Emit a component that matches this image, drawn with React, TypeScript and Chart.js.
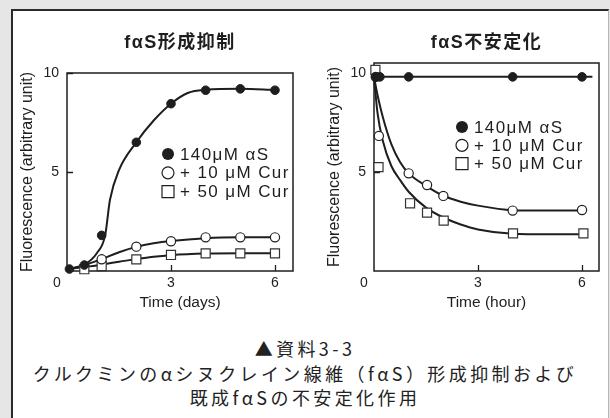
import React, { useEffect, useRef } from 'react';
import { Chart, registerables } from 'chart.js';

Chart.register(...registerables);

// ---------- texts ----------
const leftTitle = 'fαS形成抑制';
const rightTitle = 'fαS不安定化';
const yAxisTitle = 'Fluorescence (arbitrary unit)';
const leftXTitle = 'Time (days)';
const rightXTitle = 'Time (hour)';
const legendLabels = ['140μM αS', '+ 10 μM Cur', '+ 50 μM Cur'];
const captionLines = ['▲資料3-3', 'クルクミンのαシヌクレイン線維（fαS）形成抑制および', '既成fαSの不安定化作用'];

// ---------- tick values ----------
const xTickValues = [3, 6];
const yTickValues = [5, 10];

// ---------- left chart (days): measured points ----------
const dayFilledX = [0.07, 0.5, 1, 2, 3, 4, 5, 6];
const dayFilledY = [0.1, 0.3, 1.8, 6.5, 8.45, 9.13, 9.2, 9.13];
const dayCircleX = [1, 2, 3, 4, 5, 6];
const dayCircleY = [0.59, 1.23, 1.5, 1.7, 1.7, 1.7];
const daySquareX = [0.5, 1, 2, 3, 4, 5, 6];
const daySquareY = [0.09, 0.25, 0.59, 0.81, 0.89, 0.89, 0.89];

// left chart fitted curves
const dayFilledCurveX = [0.07, 0.5, 0.86, 1.1, 1.24, 1.5, 2, 2.5, 3, 3.5, 4, 5, 6];
const dayFilledCurveY = [0.1, 0.32, 0.9, 1.8, 3.6, 5.1, 6.5, 7.6, 8.45, 9.0, 9.15, 9.2, 9.15];
const dayCircleCurveX = [0.07, 0.5, 1, 1.5, 2, 2.5, 3, 4, 5, 6];
const dayCircleCurveY = [0.1, 0.3, 0.6, 0.95, 1.22, 1.4, 1.52, 1.66, 1.7, 1.7];
const daySquareCurveX = [0.07, 0.5, 1, 1.5, 2, 2.5, 3, 4, 5, 6];
const daySquareCurveY = [0.1, 0.2, 0.32, 0.47, 0.6, 0.72, 0.8, 0.88, 0.9, 0.9];

// ---------- right chart (hours): measured points ----------
const hourFilledX = [0.05, 0.17, 1, 4, 6];
const hourFilledY = [9.8, 9.8, 9.8, 9.8, 9.8];
const hourCircleX = [0.05, 0.14, 1, 1.53, 2, 4, 6];
const hourCircleY = [9.8, 6.82, 4.93, 4.34, 3.79, 3.05, 3.08];
const hourSquareX = [0.04, 0.13, 1.04, 1.53, 2.01, 4.01, 6.04];
const hourSquareY = [10.15, 5.24, 3.42, 2.95, 2.54, 1.9, 1.9];

// right chart fitted curves
const hourFilledCurveX = [0, 6.3];
const hourFilledCurveY = [9.8, 9.8];
const hourCircleCurveX = [0, 0.1, 0.25, 0.5, 0.75, 1, 1.5, 2, 2.5, 3, 4, 5, 6];
const hourCircleCurveY = [9.8, 8.9, 7.8, 6.4, 5.5, 4.93, 4.3, 3.8, 3.5, 3.3, 3.07, 3.05, 3.05];
const hourSquareCurveX = [0, 0.1, 0.25, 0.5, 0.75, 1, 1.5, 2, 2.5, 3, 4, 5, 6];
const hourSquareCurveY = [9.8, 8.0, 6.6, 5.3, 4.6, 4.0, 3.2, 2.7, 2.35, 2.1, 1.88, 1.85, 1.85];

const zip = (xs: number[], ys: number[]) => xs.map((x, i) => ({ x, y: ys[i] }));

const INK = '#1e1e1e';
const LATIN = '"Liberation Sans", Arial, Helvetica, sans-serif';
const JP = '"Liberation Sans", "Noto Sans CJK JP", sans-serif';

const decorPlugin = {
  id: 'decor',
  beforeDatasetsDraw(chart: any) {
    const { ctx, chartArea: a, scales } = chart;
    ctx.save();
    ctx.strokeStyle = INK;
    ctx.lineWidth = 1.5;
    ctx.strokeRect(a.left, a.top, a.right - a.left, a.bottom - a.top);
    ctx.lineWidth = 1.3;
    ctx.beginPath();
    for (const v of xTickValues) {
      const px = Math.round(scales.x.getPixelForValue(v)) + 0.5;
      ctx.moveTo(px, a.bottom);
      ctx.lineTo(px, a.bottom - 6);
    }
    for (const v of yTickValues) {
      const py = Math.round(scales.y.getPixelForValue(v)) + 0.5;
      ctx.moveTo(a.left, py);
      ctx.lineTo(a.left + 6, py);
    }
    ctx.stroke();
    ctx.restore();
  },
  afterDraw(chart: any, _args: any, opts: any) {
    const { ctx, chartArea: a } = chart;
    ctx.save();
    // title
    ctx.fillStyle = INK;
    ctx.textAlign = 'center';
    ctx.textBaseline = 'middle';
    ctx.font = `bold 18px ${JP}`;
    try { (ctx as any).letterSpacing = '1.5px'; } catch (e) {}
    ctx.fillText(opts.title, (a.left + a.right) / 2, 43);
    try { (ctx as any).letterSpacing = '0px'; } catch (e) {}
    // shared zero label
    ctx.font = `14px ${LATIN}`;
    ctx.fillText('0', a.left - 10, a.bottom + 12);
    // legend
    const lx = a.left + opts.legendDx;
    const ly = a.top + opts.legendDy;
    const step = opts.legendStep;
    ctx.font = `17px ${LATIN}`;
    ctx.textAlign = 'left';
    try { (ctx as any).letterSpacing = '1.4px'; } catch (e) {}
    legendLabels.forEach((label, i) => {
      const y = ly + i * step;
      ctx.lineWidth = 1.2;
      ctx.strokeStyle = INK;
      if (i === 0) {
        ctx.fillStyle = INK;
        ctx.beginPath();
        ctx.arc(lx, y, 6, 0, Math.PI * 2);
        ctx.fill();
      } else if (i === 1) {
        ctx.fillStyle = '#fff';
        ctx.beginPath();
        ctx.arc(lx, y, 6, 0, Math.PI * 2);
        ctx.fill();
        ctx.stroke();
      } else {
        ctx.fillStyle = '#fff';
        ctx.beginPath();
        ctx.rect(lx - 6, y - 6, 12, 12);
        ctx.fill();
        ctx.stroke();
      }
      ctx.fillStyle = INK;
      ctx.fillText(label, lx + 12, y + 1);
    });
    ctx.restore();
  },
};

function buildConfig(
  points: { filled: any[]; circle: any[]; square: any[] },
  curves: any[][],
  xMax: number,
  yMax: number,
  pad: any,
  yWidth: number,
  yTitlePad: number,
  xTitle: string,
  decor: any
) {
  const curveDs = curves.map((d) => ({
    data: d,
    showLine: true,
    pointRadius: 0,
    borderColor: INK,
    borderWidth: 2,
    cubicInterpolationMode: 'monotone',
    clip: false,
  }));
  return {
    type: 'scatter',
    data: {
      datasets: [
        {
          data: points.filled,
          showLine: false,
          pointRadius: 4.3,
          pointBackgroundColor: INK,
          pointBorderColor: INK,
          pointBorderWidth: 1,
          clip: false,
        },
        {
          data: points.circle,
          showLine: false,
          pointRadius: 4.6,
          pointBackgroundColor: '#fff',
          pointBorderColor: INK,
          pointBorderWidth: 1.2,
          clip: false,
        },
        {
          data: points.square,
          showLine: false,
          pointStyle: 'rect',
          pointRadius: 6.4,
          pointBackgroundColor: '#fff',
          pointBorderColor: '#333',
          pointBorderWidth: 1.2,
          clip: false,
        },
        ...curveDs,
      ],
    },
    options: {
      responsive: false,
      animation: false,
      devicePixelRatio: 1,
      layout: { padding: pad },
      plugins: {
        legend: { display: false },
        tooltip: { enabled: false },
        title: { display: false },
        decor,
      },
      scales: {
        x: {
          type: 'linear',
          min: 0,
          max: xMax,
          afterFit: (s: any) => {
            s.height = 49;
          },
          grid: { display: false, drawTicks: false },
          border: { display: false },
          ticks: {
            stepSize: 3,
            includeBounds: false,
            padding: 4,
            color: INK,
            font: { size: 14, family: LATIN },
            callback: (v: any) => (v === 0 ? '' : String(v)),
          },
          title: {
            display: true,
            text: xTitle,
            color: INK,
            font: { size: 15.5, family: LATIN },
            padding: { top: 0, bottom: 7.7 },
          },
        },
        y: {
          type: 'linear',
          min: 0,
          max: yMax,
          afterFit: (s: any) => {
            s.width = yWidth;
          },
          grid: { display: false, drawTicks: false },
          border: { display: false },
          ticks: {
            stepSize: 5,
            includeBounds: false,
            padding: 8,
            color: INK,
            font: { size: 14, family: LATIN },
            callback: (v: any) => (v === 0 ? '' : String(v)),
          },
          title: {
            display: true,
            text: yAxisTitle,
            color: INK,
            font: { size: 16, family: LATIN },
            padding: { top: yTitlePad, bottom: 0 },
          },
        },
      },
    },
    plugins: [decorPlugin],
  } as any;
}

function ChartCanvas({ config, left }: { config: any; left: number }) {
  const ref = useRef<HTMLCanvasElement | null>(null);
  useEffect(() => {
    if (!ref.current) return;
    const chart = new Chart(ref.current, config);
    return () => chart.destroy();
  }, [config]);
  return (
    <canvas
      ref={ref}
      width={305}
      height={320}
      style={{ position: 'absolute', left, top: 0, width: 305, height: 320 }}
    />
  );
}

const leftConfig = buildConfig(
  {
    filled: zip(dayFilledX, dayFilledY),
    circle: zip(dayCircleX, dayCircleY),
    square: zip(daySquareX, daySquareY),
  },
  [
    zip(dayFilledCurveX, dayFilledCurveY),
    zip(dayCircleCurveX, dayCircleCurveY),
    zip(daySquareCurveX, daySquareCurveY),
  ],
  6.52,
  10,
  { left: 0, top: 73, right: 12, bottom: 0 },
  67,
  18.4,
  leftXTitle,
  { title: leftTitle, legendDx: 101, legendDy: 81, legendStep: 18.8 }
);

const rightConfig = buildConfig(
  {
    filled: zip(hourFilledX, hourFilledY),
    circle: zip(hourCircleX, hourCircleY),
    square: zip(hourSquareX, hourSquareY),
  },
  [
    zip(hourFilledCurveX, hourFilledCurveY),
    zip(hourCircleCurveX, hourCircleCurveY),
    zip(hourSquareCurveX, hourSquareCurveY),
  ],
  6.49,
  10.5,
  { left: 0, top: 63, right: 11, bottom: 0 },
  69,
  20.4,
  rightXTitle,
  { title: rightTitle, legendDx: 88, legendDy: 64, legendStep: 18.3 }
);

export default function App() {
  return (
    <div
      style={{
        position: 'absolute',
        left: 0,
        top: 0,
        width: 610,
        height: 418,
        overflow: 'hidden',
        background: '#e6e6e6',
      }}
    >
      <div
        style={{
          position: 'absolute',
          left: 11,
          top: 9,
          width: 595,
          height: 420,
          background: '#fff',
          borderTop: '2px solid #2a2a2a',
          borderLeft: '2px solid #2a2a2a',
          borderRight: '1px solid #b5b5b5',
        }}
      />
      <ChartCanvas config={leftConfig} left={0} />
      <ChartCanvas config={rightConfig} left={305} />
      <div
        style={{
          position: 'absolute',
          left: 0,
          top: 336,
          width: 610,
          textAlign: 'center',
          fontFamily: '"Noto Sans CJK JP", sans-serif',
          fontSize: 18,
          lineHeight: '24.5px',
          letterSpacing: '3.4px',
          color: '#222',
        }}
      >
        {captionLines.map((l, i) => (
          <div key={i}>{l}</div>
        ))}
      </div>
    </div>
  );
}
